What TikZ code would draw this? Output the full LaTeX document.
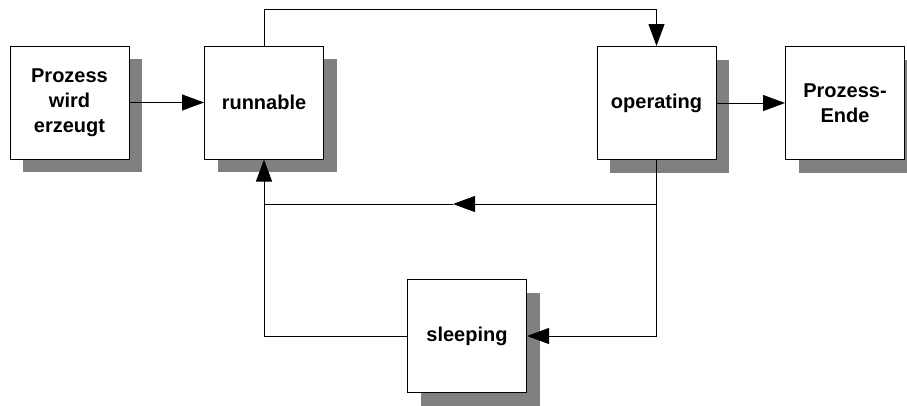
\documentclass[tikz,border=0pt]{standalone}
\usepackage{fontspec}
\setmainfont{Liberation Sans}
\usepackage{xcolor}
\usepackage{tikz}
\usetikzlibrary{arrows.meta, positioning, shadows, calc}
\definecolor{shadowgray}{HTML}{808080}
\tikzset{
  state/.style={rectangle, draw=black, fill=white, line width=1pt, align=center,
    font=\fontsize{20}{25}\selectfont\bfseries, minimum width=119pt, minimum height=113pt,
    inner sep=2pt,
    drop shadow={shadow xshift=13pt, shadow yshift=-13pt, fill=shadowgray, opacity=1}},
  line/.style={line width=1pt, draw=black},
  arr/.style={line, -{Triangle[length=22pt, width=16pt]}},
}
\begin{document}
\begin{tikzpicture}[x=1pt, y=-1pt]
  \useasboundingbox (0,0) rectangle (907,405);
  \node[state] (erzeugt) at (69.5,102.5) {Prozess\\wird\\erzeugt};
  \node[state] (runnable) at (264,102.5) {runnable};
  \node[state] (operating) at (656.5,103) {operating};
  \node[state] (ende) at (845,103) {Prozess-\\Ende};
  \node[state] (sleeping) at (467,336) {sleeping};
  \coordinate (junc) at (operating.south |- 0,204);
  \coordinate (back) at (453,204);
  \coordinate (merge) at (runnable.south |- junc);
  \draw[arr] (erzeugt) -- (runnable);
  \draw[arr] (runnable.north) -- ++(0,-36) -| (operating.north);
  \draw[arr] (operating) -- (ende);
  \draw[line] (operating.south) -- (junc);
  \draw[arr] (junc) -- (back);
  \draw[arr] (back) -- (merge) -- (runnable.south);
  \draw[arr] (junc) |- (sleeping.east);
  \draw[line] (sleeping.west) -| (merge);
\end{tikzpicture}
\end{document}
